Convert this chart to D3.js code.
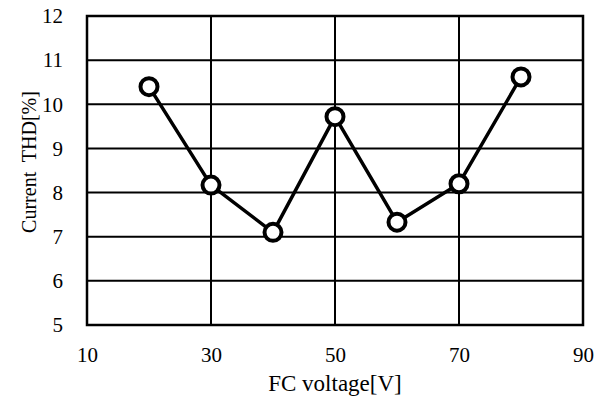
<!DOCTYPE html>
<html>
<head>
<meta charset="utf-8">
<script src="https://cdn.jsdelivr.net/npm/d3@7"></script>
<style>
  body { margin: 0; background: #fff; }
  text { font-family: "Liberation Serif", "Times New Roman", serif; fill: #000; }
</style>
</head>
<body>
<div id="chart"></div>
<script>
// values
var voltages = [20, 30, 40, 50, 60, 70, 80];
var thd = [10.40, 8.17, 7.10, 9.72, 7.33, 8.20, 10.62];
var xTicks = [10, 30, 50, 70, 90];
var yTicks = [5, 6, 7, 8, 9, 10, 11, 12];

var width = 609, height = 399;
var margin = {top: 16, right: 26, bottom: 74, left: 87};

var svg = d3.select("#chart").append("svg")
    .attr("width", width)
    .attr("height", height);

var x = d3.scaleLinear().domain([10, 90]).range([margin.left, width - margin.right]);
var y = d3.scaleLinear().domain([5, 12]).range([height - margin.bottom, margin.top]);

/* grid lines */
var grid = svg.append("g").attr("stroke", "#000").attr("stroke-width", 2);
grid.selectAll("line.h")
    .data(yTicks)
    .enter().append("line")
    .attr("x1", x(10)).attr("x2", x(90))
    .attr("y1", function (d) { return y(d); })
    .attr("y2", function (d) { return y(d); });
grid.selectAll("line.v")
    .data(xTicks)
    .enter().append("line")
    .attr("y1", y(5)).attr("y2", y(12))
    .attr("x1", function (d) { return x(d); })
    .attr("x2", function (d) { return x(d); });
grid.append("rect")
    .attr("x", x(10)).attr("y", y(12))
    .attr("width", x(90) - x(10)).attr("height", y(5) - y(12))
    .attr("fill", "none").attr("stroke-width", 2.5);

/* axes: only the labels, the frame is drawn above */
var xAxis = svg.append("g")
    .attr("transform", "translate(0," + y(5) + ")")
    .call(d3.axisBottom(x).tickValues(xTicks).tickFormat(d3.format("d")).tickSize(0).tickPadding(22));
var yAxis = svg.append("g")
    .attr("transform", "translate(" + x(10) + ",0)")
    .call(d3.axisLeft(y).tickValues(yTicks).tickFormat(d3.format("d")).tickSize(0).tickPadding(24));
[xAxis, yAxis].forEach(function (a) {
  a.select(".domain").remove();
  a.selectAll("text")
      .style("font-family", "'Liberation Serif', serif")
      .style("font-size", "21px")
      .attr("fill", "#000");
});

/* the series */
var line = d3.line()
    .x(function (d, i) { return x(voltages[i]); })
    .y(function (d) { return y(d); });
svg.append("path")
    .datum(thd)
    .attr("d", line)
    .attr("fill", "none")
    .attr("stroke", "#000")
    .attr("stroke-width", 3.5)
    .attr("stroke-linejoin", "round");
svg.selectAll("circle.pt")
    .data(thd)
    .enter().append("circle")
    .attr("class", "pt")
    .attr("cx", function (d, i) { return x(voltages[i]); })
    .attr("cy", function (d) { return y(d); })
    .attr("r", 8.5)
    .attr("fill", "#fff")
    .attr("stroke", "#000")
    .attr("stroke-width", 4);

/* axis titles */
svg.append("text")
    .attr("x", x(50)).attr("y", 391)
    .attr("text-anchor", "middle")
    .style("font-size", "23px")
    .text("FC voltage[V]");
svg.append("text")
    .attr("transform", "translate(36,162) rotate(-90)")
    .attr("text-anchor", "middle")
    .style("font-size", "20px")
    .style("white-space", "pre")
    .text("Current  THD[%]");
</script>
</body>
</html>
